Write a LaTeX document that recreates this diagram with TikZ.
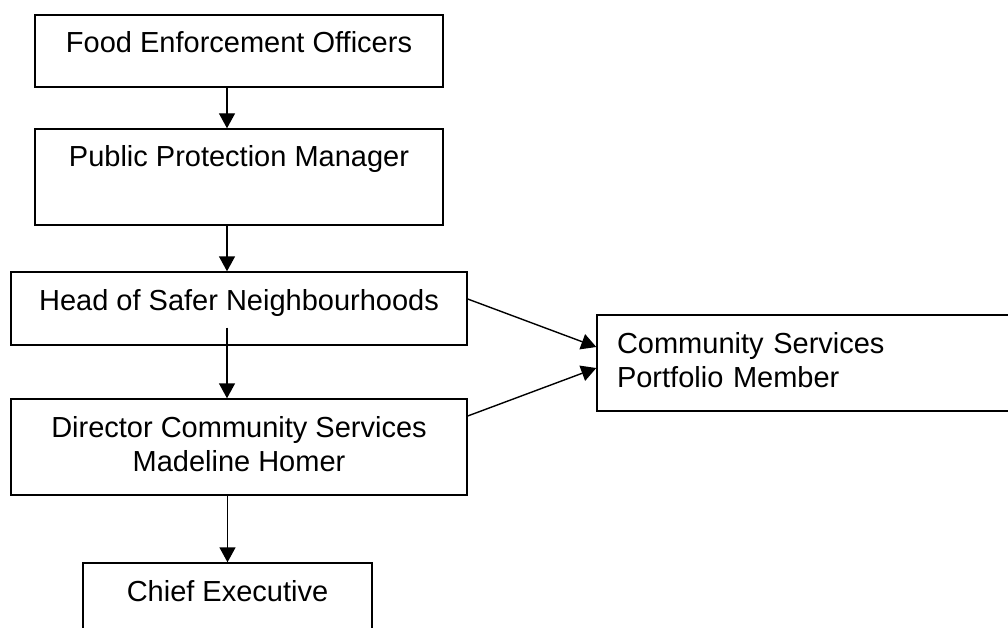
\documentclass[tikz,border=0pt]{standalone}
\usepackage{fontspec}
\setmainfont{Liberation Sans}
\usetikzlibrary{arrows.meta}
\begin{document}
\begin{tikzpicture}[x=1pt, y=-1pt, line width=1.4pt,
        box/.style={draw, inner sep=0pt, align=center, text height=38pt, font=\fontsize{29}{34}\selectfont},
        arr/.style={-{Triangle[length=15pt, width=16pt]}}]
        \clip (0,0) rectangle (1008,628);
        \node[box, minimum width=408pt, text depth=34pt] (food) at (239,51) {Food Enforcement Officers};
        \node[box, minimum width=408pt, text depth=58pt] (ppm) at (239,177) {Public Protection Manager};
        \node[box, minimum width=456pt, text depth=35pt] (head) at (239,308.5) {Head of Safer Neighbourhoods};
        \node[box, minimum width=456pt, text height=72pt, text depth=24pt] (director) at (239,447) {Director Community Services\\Madeline Homer};
        \node[box, minimum width=289pt, text depth=50pt] (chief) at (227.5,607) {Chief Executive};
        \node[box, align=left, text width=400pt, inner xsep=20pt, text depth=58pt] (member) at (817,363) {Community Services\\Portfolio Member};
        \draw[arr] ([xshift=-12pt]food.south) -- ([xshift=-12pt]ppm.north);
        \draw[arr] ([xshift=-12pt]ppm.south) -- ([xshift=-12pt]head.north);
        \draw[arr] ([xshift=-12pt, yshift=18pt]head.south) -- ([xshift=-12pt]director.north);
        \draw[arr] (director.south -| chief.north) -- (chief.north);
        \draw[arr] ([yshift=9.5pt]head.east) -- ([yshift=16pt]member.west);
        \draw[arr] ([yshift=31pt]director.east) -- ([yshift=-5pt]member.west);
    \end{tikzpicture}
\end{document}
